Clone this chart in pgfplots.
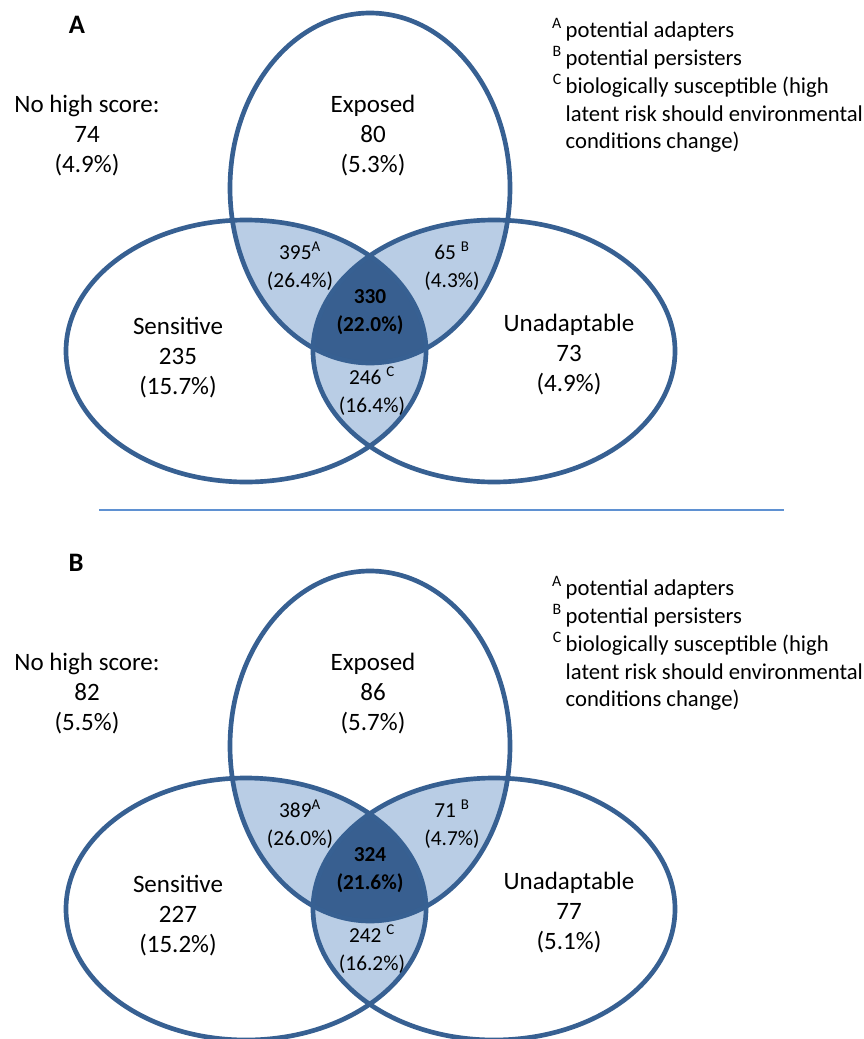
\documentclass[border=0pt]{standalone}
\usepackage{fontspec}
\setmainfont{Carlito}
\usepackage{pgfplots}
\pgfplotsset{compat=1.18}

\definecolor{vennline}{RGB}{55,96,146}
\definecolor{vennlight}{RGB}{185,205,229}
\definecolor{venndark}{RGB}{56,95,144}
\definecolor{divider}{RGB}{95,145,210}

% 1 px of the reference = 0.75pt
\newcommand{\mainsz}{\fontsize{18.75}{22.5}\selectfont}
\newcommand{\smallsz}{\fontsize{16}{21}\selectfont}
\newcommand{\legsz}{\fontsize{17}{20.7}\selectfont}
\newcommand{\labsz}{\fontsize{20}{22}\selectfont\bfseries}

% three ellipses, shifted down by #1 px
\newcommand{\vennshapes}[1]{%
  \begin{scope}
    \clip (axis cs:370,{188+#1}) ellipse [x radius=140, y radius=175];
    \fill[vennlight] (axis cs:246,{351+#1}) ellipse [x radius=180, y radius=131];
    \fill[vennlight] (axis cs:494,{351+#1}) ellipse [x radius=181, y radius=131];
  \end{scope}
  \begin{scope}
    \clip (axis cs:246,{351+#1}) ellipse [x radius=180, y radius=131];
    \fill[vennlight] (axis cs:494,{351+#1}) ellipse [x radius=181, y radius=131];
  \end{scope}
  \begin{scope}
    \clip (axis cs:370,{188+#1}) ellipse [x radius=140, y radius=175];
    \clip (axis cs:246,{351+#1}) ellipse [x radius=180, y radius=131];
    \fill[venndark] (axis cs:494,{351+#1}) ellipse [x radius=181, y radius=131];
  \end{scope}
  \draw[vennline, line width=3.5pt] (axis cs:370,{188+#1}) ellipse [x radius=140, y radius=175];
  \draw[vennline, line width=3.5pt] (axis cs:246,{351+#1}) ellipse [x radius=180, y radius=131];
  \draw[vennline, line width=3.5pt] (axis cs:494,{351+#1}) ellipse [x radius=181, y radius=131];
}

\begin{document}
\begin{tikzpicture}
\begin{axis}[
    width=648pt, height=779.25pt,
    scale only axis,
    xmin=0, xmax=864, ymin=0, ymax=1039,
    y dir=reverse,
    hide axis,
    clip=true,
]
% ---------- panel A ----------
\vennshapes{0}
\node[font=\labsz] at (axis cs:77,25) {A};
\node[align=center, font=\mainsz] at (axis cs:87,136) {No high score:\\74\\(4.9\%)};
\node[align=center, font=\mainsz] at (axis cs:373,136) {Exposed\\80\\(5.3\%)};
\node[align=center, font=\mainsz] at (axis cs:178,358) {Sensitive\\235\\(15.7\%)};
\node[align=center, font=\mainsz] at (axis cs:569,355) {Unadaptable\\73\\(4.9\%)};
\node[align=center, font=\smallsz] at (axis cs:300,266) {395\textsuperscript{A}\\(26.4\%)};
\node[align=center, font=\smallsz] at (axis cs:452,266) {65 \textsuperscript{B}\\(4.3\%)};
\node[align=center, font=\smallsz\bfseries] at (axis cs:370,312) {330\\(22.0\%)};
\node[align=center, font=\smallsz] at (axis cs:372,391) {246 \textsuperscript{C}\\(16.4\%)};
\node[anchor=base west, font=\legsz] at (axis cs:561,37) {\llap{\textsuperscript{A}\,}potential adapters};
\node[anchor=base west, font=\legsz] at (axis cs:561,65) {\llap{\textsuperscript{B}\,}potential persisters};
\node[anchor=base west, font=\legsz] at (axis cs:561,93) {\llap{\textsuperscript{C}\,}biologically susceptible (high};
\node[anchor=base west, font=\legsz] at (axis cs:561,121) {latent risk should environmental};
\node[anchor=base west, font=\legsz] at (axis cs:561,148) {conditions change)};

% divider
\addplot[divider, line width=1.2pt, no marks] coordinates {(99,510) (784,510)};

% ---------- panel B ----------
\vennshapes{558}
\node[font=\labsz] at (axis cs:76,563) {B};
\node[align=center, font=\mainsz] at (axis cs:87,694) {No high score:\\82\\(5.5\%)};
\node[align=center, font=\mainsz] at (axis cs:373,694) {Exposed\\86\\(5.7\%)};
\node[align=center, font=\mainsz] at (axis cs:178,916) {Sensitive\\227\\(15.2\%)};
\node[align=center, font=\mainsz] at (axis cs:569,913) {Unadaptable\\77\\(5.1\%)};
\node[align=center, font=\smallsz] at (axis cs:300,824) {389\textsuperscript{A}\\(26.0\%)};
\node[align=center, font=\smallsz] at (axis cs:452,824) {71 \textsuperscript{B}\\(4.7\%)};
\node[align=center, font=\smallsz\bfseries] at (axis cs:370,870) {324\\(21.6\%)};
\node[align=center, font=\smallsz] at (axis cs:372,949) {242 \textsuperscript{C}\\(16.2\%)};
\node[anchor=base west, font=\legsz] at (axis cs:561,595) {\llap{\textsuperscript{A}\,}potential adapters};
\node[anchor=base west, font=\legsz] at (axis cs:561,623) {\llap{\textsuperscript{B}\,}potential persisters};
\node[anchor=base west, font=\legsz] at (axis cs:561,651) {\llap{\textsuperscript{C}\,}biologically susceptible (high};
\node[anchor=base west, font=\legsz] at (axis cs:561,679) {latent risk should environmental};
\node[anchor=base west, font=\legsz] at (axis cs:561,706) {conditions change)};
\end{axis}
\pgfresetboundingbox
\useasboundingbox (current axis.south west) rectangle (current axis.north east);
\end{tikzpicture}
\end{document}
